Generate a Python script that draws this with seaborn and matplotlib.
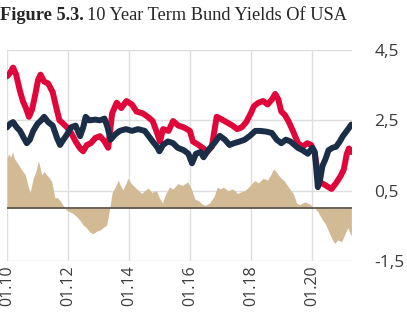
import matplotlib
matplotlib.use("Agg")
import matplotlib.pyplot as plt
import seaborn as sns
import pandas as pd

# ---- data (decimal years) ----
red_t = [2010.00, 2010.10, 2010.20, 2010.30, 2010.42, 2010.52, 2010.62, 2010.72, 2010.82, 2010.92,
         2011.02, 2011.10, 2011.22, 2011.35, 2011.50, 2011.62, 2011.72, 2011.85, 2011.97, 2012.10,
         2012.25, 2012.40, 2012.50, 2012.62, 2012.75, 2012.90, 2013.05, 2013.20, 2013.32, 2013.45,
         2013.60, 2013.75, 2013.92, 2014.10, 2014.25, 2014.45, 2014.62, 2014.78, 2014.92, 2015.02,
         2015.12, 2015.30, 2015.45, 2015.62, 2015.80, 2016.00, 2016.10, 2016.28, 2016.45, 2016.56,
         2016.72, 2016.88, 2017.00, 2017.20, 2017.40, 2017.55, 2017.70, 2017.85, 2018.00, 2018.10,
         2018.25, 2018.40, 2018.55, 2018.70, 2018.80, 2018.90, 2019.00, 2019.12, 2019.25, 2019.38,
         2019.55, 2019.70, 2019.85, 2019.98, 2020.10, 2020.18, 2020.25, 2020.40, 2020.55, 2020.65,
         2020.80, 2020.95, 2021.05, 2021.15, 2021.22, 2021.30]
red_v = [3.75, 3.85, 4.00, 3.80, 3.35, 3.05, 2.85, 2.60, 2.80, 3.20,
         3.65, 3.80, 3.60, 3.55, 3.30, 2.85, 2.50, 2.40, 2.30, 2.15,
         1.90, 1.70, 1.62, 1.80, 1.85, 2.00, 2.05, 1.90, 1.72, 2.70,
         3.00, 2.85, 3.05, 2.95, 2.75, 2.70, 2.60, 2.48, 2.15, 1.90,
         2.25, 2.20, 2.48, 2.35, 2.30, 2.20, 1.90, 1.80, 1.70, 1.60,
         1.75, 2.60, 2.55, 2.45, 2.35, 2.25, 2.30, 2.45, 2.70, 2.90,
         3.00, 3.05, 2.95, 3.10, 3.25, 3.10, 2.75, 2.65, 2.45, 2.20,
         1.85, 1.75, 1.85, 1.80, 1.55, 1.10, 0.75, 0.68, 0.60, 0.55,
         0.72, 0.92, 1.10, 1.55, 1.70, 1.60]

navy_t = [2010.00, 2010.10, 2010.20, 2010.32, 2010.43, 2010.55, 2010.65, 2010.75, 2010.86, 2011.00,
          2011.12, 2011.22, 2011.35, 2011.50, 2011.64, 2011.74, 2011.85, 2011.97, 2012.10, 2012.25,
          2012.40, 2012.50, 2012.58, 2012.70, 2012.89, 2013.05, 2013.20, 2013.30, 2013.40, 2013.55,
          2013.70, 2013.90, 2014.10, 2014.30, 2014.52, 2014.65, 2014.78, 2014.92, 2015.00, 2015.12,
          2015.28, 2015.45, 2015.60, 2015.80, 2015.95, 2016.07, 2016.20, 2016.35, 2016.45, 2016.60,
          2016.80, 2016.98, 2017.15, 2017.30, 2017.45, 2017.64, 2017.80, 2017.97, 2018.15, 2018.30,
          2018.50, 2018.69, 2018.85, 2019.00, 2019.15, 2019.30, 2019.54, 2019.70, 2019.87, 2020.02,
          2020.10, 2020.15, 2020.20, 2020.27, 2020.35, 2020.45, 2020.55, 2020.68, 2020.80, 2020.92,
          2021.02, 2021.15, 2021.30]
navy_v = [2.30, 2.40, 2.45, 2.30, 2.20, 2.00, 1.85, 1.95, 2.20, 2.40,
          2.50, 2.60, 2.45, 2.35, 2.00, 1.80, 1.95, 2.10, 2.30, 2.35,
          2.05, 2.30, 2.60, 2.50, 2.52, 2.50, 2.55, 2.30, 1.95, 2.10,
          2.20, 2.25, 2.20, 2.25, 2.20, 2.05, 1.90, 1.75, 1.62, 1.80,
          1.90, 1.85, 1.72, 1.65, 1.55, 1.28, 1.55, 1.60, 1.45, 1.65,
          1.85, 2.06, 1.95, 1.80, 1.85, 1.90, 1.95, 2.06, 2.20, 2.20,
          2.18, 2.14, 1.95, 1.85, 1.95, 1.90, 1.72, 1.65, 1.55, 1.72,
          1.60, 1.10, 0.60, 0.80, 1.20, 1.40, 1.65, 1.72, 1.75, 1.90,
          2.05, 2.20, 2.38]

spread_t = [2010.00, 2010.05, 2010.12, 2010.18, 2010.25, 2010.37, 2010.48, 2010.60, 2010.70, 2010.76,
            2010.86, 2010.95, 2011.03, 2011.10, 2011.14, 2011.22, 2011.30, 2011.40, 2011.47, 2011.57,
            2011.65, 2011.74, 2011.84, 2011.95, 2012.05, 2012.17, 2012.30, 2012.40, 2012.50, 2012.60,
            2012.72, 2012.83, 2012.95, 2013.05, 2013.15, 2013.27, 2013.33, 2013.38, 2013.45, 2013.55,
            2013.65, 2013.72, 2013.80, 2013.90, 2013.97, 2014.08, 2014.20, 2014.32, 2014.42, 2014.52,
            2014.63, 2014.75, 2014.90, 2015.00, 2015.10, 2015.20, 2015.33, 2015.45, 2015.60, 2015.75,
            2015.93, 2016.05, 2016.16, 2016.30, 2016.40, 2016.50, 2016.65, 2016.80, 2016.90, 2017.00,
            2017.10, 2017.25, 2017.40, 2017.57, 2017.70, 2017.80, 2017.95, 2018.05, 2018.13, 2018.25,
            2018.40, 2018.55, 2018.65, 2018.75, 2018.82, 2018.90, 2019.00, 2019.10, 2019.20, 2019.28,
            2019.40, 2019.50, 2019.60, 2019.70, 2019.80, 2019.93, 2020.02, 2020.10, 2020.20, 2020.33,
            2020.45, 2020.55, 2020.65, 2020.75, 2020.85, 2020.98, 2021.08, 2021.18, 2021.25, 2021.30]
spread_v = [1.40, 1.55, 1.45, 1.60, 1.40, 1.25, 1.10, 0.95, 0.60, 0.45,
            0.85, 1.05, 1.35, 1.10, 0.95, 1.05, 0.95, 0.85, 0.75, 0.30,
            0.30, 0.22, 0.08, -0.05, -0.10, -0.15, -0.25, -0.35, -0.48, -0.55,
            -0.68, -0.72, -0.65, -0.62, -0.55, -0.48, -0.20, 0.05, 0.45, 0.60,
            0.80, 0.65, 0.52, 0.70, 0.85, 0.70, 0.60, 0.50, 0.42, 0.50,
            0.58, 0.45, 0.50, 0.30, 0.15, 0.40, 0.60, 0.55, 0.70, 0.65,
            0.75, 0.55, 0.27, 0.20, 0.12, 0.08, 0.15, 0.35, 0.60, 0.55,
            0.60, 0.50, 0.55, 0.42, 0.48, 0.50, 0.62, 0.72, 0.78, 0.72,
            0.85, 0.80, 0.95, 1.12, 1.05, 0.95, 0.85, 0.78, 0.65, 0.55,
            0.40, 0.15, 0.10, 0.15, 0.18, 0.12, 0.05, 0.00, -0.10, -0.30,
            -0.45, -0.65, -0.85, -1.00, -0.90, -0.95, -0.75, -0.55, -0.70, -0.78]

x_ticks = [2010, 2012, 2014, 2016, 2018, 2020]
x_labels = ["01.10", "01.12", "01.14", "01.16", "01.18", "01.20"]
y_ticks = [-1.5, 0.5, 2.5, 4.5]
y_labels = ["-1,5", "0,5", "2,5", "4,5"]

RED = "#E1063A"
NAVY = "#1B2E48"
TAN = "#D2BA95"

sns.set_style("white")
plt.rcParams["font.family"] = ["Open Sans", "DejaVu Sans"]

fig = plt.figure(figsize=(4.07, 3.12), dpi=100)
ax = fig.add_axes([7 / 407, 1 - 261 / 312, (352 - 7) / 407, (261 - 50) / 312])

ax.fill_between(spread_t, spread_v, 0, color=TAN, linewidth=0, zorder=2)
ax.axhline(0, color="#5f574c", lw=1.3, zorder=3)

df_red = pd.DataFrame({"t": red_t, "v": red_v})
df_navy = pd.DataFrame({"t": navy_t, "v": navy_v})
sns.lineplot(data=df_red, x="t", y="v", ax=ax, color=RED, lw=4.3, sort=False, zorder=4)
sns.lineplot(data=df_navy, x="t", y="v", ax=ax, color=NAVY, lw=4.3, sort=False, zorder=5)

ax.set_xlim(2010, 2021.32)
ax.set_ylim(-1.5, 4.5)
ax.set_xticks(x_ticks)
ax.set_xticklabels(x_labels, rotation=90, fontsize=11.5, color="#3c3c3c")
ax.set_yticks(y_ticks)
ax.set_yticklabels(y_labels, fontsize=12.5, color="#3c3c3c")
ax.yaxis.tick_right()
ax.tick_params(axis="y", length=0, pad=16)
ax.tick_params(axis="x", length=0, pad=3)
for lab in ax.get_yticklabels():
    lab.set_horizontalalignment("left")
ax.grid(True, color="#dedede", lw=1, zorder=0)
ax.set_axisbelow(True)
for s in ax.spines.values():
    s.set_visible(False)
ax.set_xlabel("")
ax.set_ylabel("")

t1 = fig.text(0.0, 1 - 16 / 312, "Figure 5.3.", fontsize=13.2, fontweight="bold",
              family="Liberation Serif", va="center", ha="left")
fig.canvas.draw()
bb = t1.get_window_extent(renderer=fig.canvas.get_renderer())
fig.text(bb.x1 / fig.bbox.width + 3 / 407, 1 - 16 / 312, "10 Year Term Bund Yields Of USA",
         fontsize=13.2, family="Liberation Serif", va="center", ha="left")

fig.savefig("out.png", dpi=100)
